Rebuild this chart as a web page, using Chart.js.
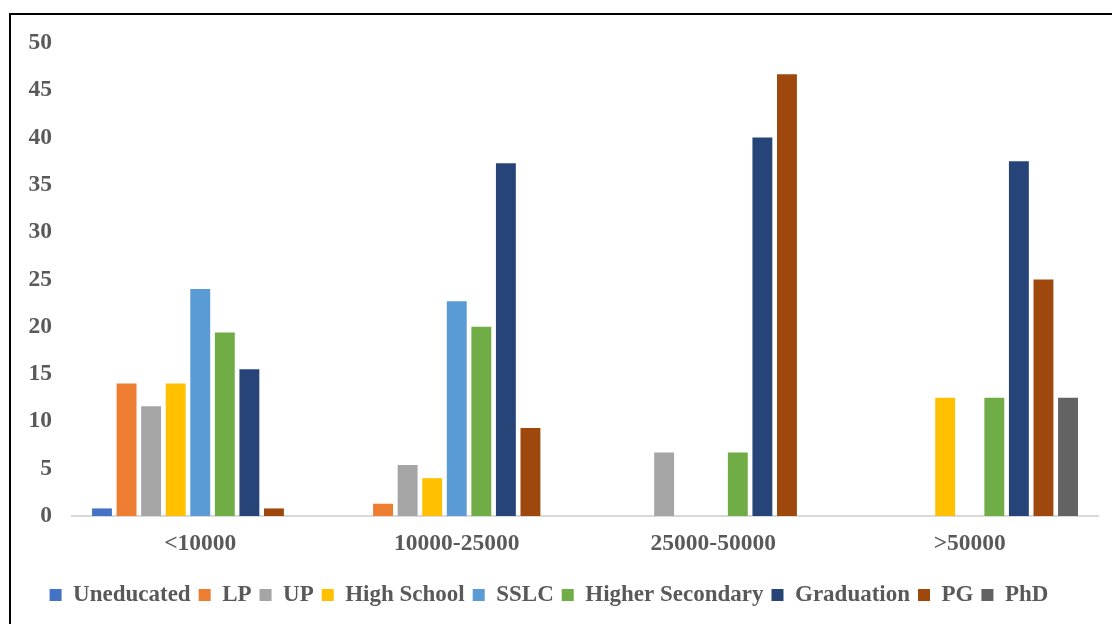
<!DOCTYPE html>
<html>
<head>
<meta charset="utf-8">
<script src="https://cdn.jsdelivr.net/npm/chart.js@4"></script>
<style>
    body { margin: 0; overflow: hidden; background: #fff; }
    #wrap { position: relative; width: 1112px; height: 624px; }
    #frame { position: absolute; left: 9px; top: 13px; width: 1120px; height: 640px; border: 2px solid #000; pointer-events: none; }
</style>
</head>
<body>
<div id="wrap">
    <canvas id="incomeChart"></canvas>
    <div id="frame"></div>
</div>
<script>
// Income groups and share (%) of each education level
const incomeGroups = ['<10000', '10000-25000', '25000-50000', '>50000'];
const uneducated = [0.8, 0, 0, 0];
const lp = [14.0, 1.3, 0, 0];
const up = [11.6, 5.4, 6.7, 0];
const highSchool = [14.0, 4.0, 0, 12.5];
const sslc = [24.0, 22.7, 0, 0];
const higherSecondary = [19.4, 20.0, 6.7, 12.5];
const graduation = [15.5, 37.3, 40.0, 37.5];
const pg = [0.8, 9.3, 46.7, 25.0];
const phd = [0, 0, 0, 12.5];
const yTicks = [0, 5, 10, 15, 20, 25, 30, 35, 40, 45, 50];

const series = [
    ['Uneducated', uneducated, '#4472C4'],
    ['LP', lp, '#ED7D31'],
    ['UP', up, '#A5A5A5'],
    ['High School', highSchool, '#FFC000'],
    ['SSLC', sslc, '#5B9BD5'],
    ['Higher Secondary', higherSecondary, '#70AD47'],
    ['Graduation', graduation, '#264478'],
    ['PG', pg, '#9E480E'],
    ['PhD', phd, '#636363']
];

const textColor = '#595959';
const family = '"Liberation Serif", "Times New Roman", serif';
const font = { family, size: 23.5, weight: 'bold' };
const legendFont = { family, size: 23, weight: 'bold' };

new Chart(document.getElementById('incomeChart'), {
    type: 'bar',
    data: {
        labels: incomeGroups,
        datasets: series.map(([label, data, color]) => ({
            label,
            data,
            backgroundColor: color,
            borderWidth: 0,
            categoryPercentage: 0.862,
            barPercentage: 0.81
        }))
    },
    options: {
        responsive: true,
        maintainAspectRatio: false,
        animation: false,
        layout: { padding: { top: 43, right: 14, bottom: 7.5, left: 0 } },
        plugins: {
            tooltip: { enabled: false },
            legend: {
                position: 'bottom',
                labels: {
                    boxWidth: 12,
                    boxHeight: 12,
                    padding: 8,
                    color: textColor,
                    font: legendFont
                }
            }
        },
        scales: {
            x: {
                // extra room under the category labels pushes the legend down
                afterFit: scale => { scale.height += 4.3; },
                grid: { display: false, drawTicks: false },
                border: { display: true, color: '#D9D9D9', width: 2 },
                ticks: { color: textColor, font, padding: 13.5 }
            },
            y: {
                min: 0,
                max: 50,
                afterFit: scale => { scale.width = 72; },
                afterBuildTicks: scale => { scale.ticks = yTicks.map(v => ({ value: v })); },
                grid: { display: false, drawTicks: false },
                border: { display: false },
                ticks: { color: textColor, font, padding: 20 }
            }
        }
    }
});
</script>
</body>
</html>
